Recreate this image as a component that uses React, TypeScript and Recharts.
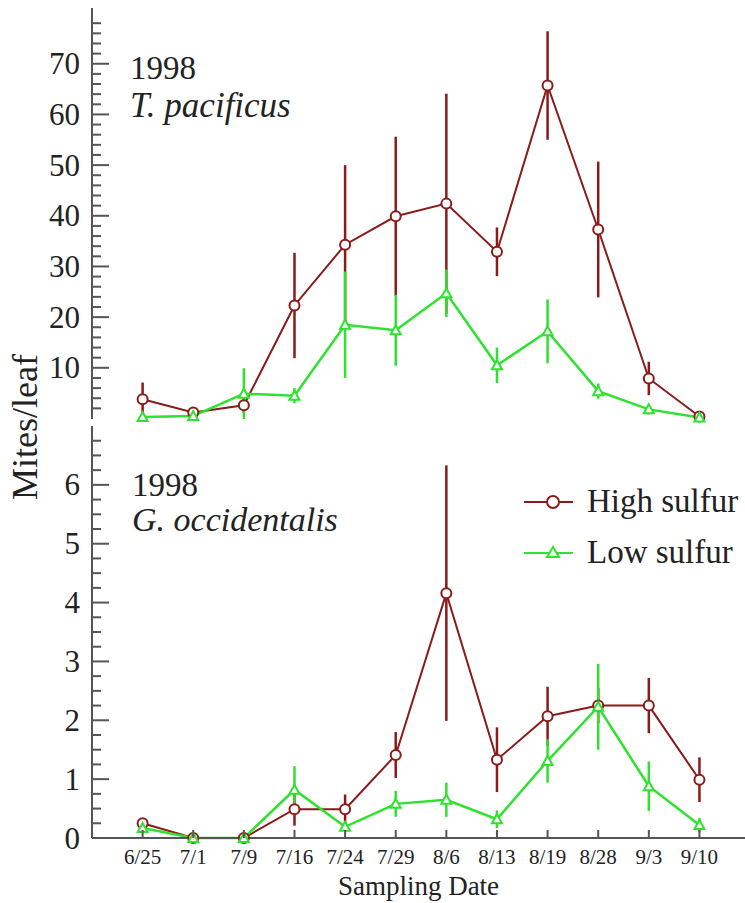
import React from 'react'
import { LineChart, Line, XAxis, YAxis, ErrorBar, Legend } from 'recharts'

const RED = '#8b1a1a'
const GREEN = '#2ee22e'
const AXIS = '#555'

const dates = ['6/25', '7/1', '7/9', '7/16', '7/24', '7/29', '8/6', '8/13', '8/19', '8/28', '9/3', '9/10']

// 1998, T. pacificus
const tpHigh = [3.8, 1.2, 2.6, 22.3, 34.3, 39.9, 42.4, 32.9, 65.7, 37.3, 7.9, 0.4]
const tpHighErr = [3.3, 0.5, 1.5, 10.4, 15.7, 15.7, 21.7, 4.8, 10.7, 13.4, 3.3, 0]
const tpLow = [0.3, 0.5, 4.9, 4.5, 18.5, 17.4, 24.7, 10.5, 17.2, 5.4, 1.8, 0.2]
const tpLowErr = [0.3, 0.3, 5, 1.5, 10.5, 7, 4.7, 3.5, 6.3, 1.5, 1, 0.2]

// 1998, G. occidentalis
const goHigh = [0.25, 0, 0, 0.49, 0.49, 1.41, 4.16, 1.33, 2.07, 2.25, 2.25, 0.99]
const goHighErr = [0.05, 0, 0, 0.28, 0.25, 0.39, 2.17, 0.55, 0.5, 0.3, 0.47, 0.38]
const goLow = [0.17, 0, 0, 0.82, 0.19, 0.58, 0.65, 0.32, 1.31, 2.23, 0.88, 0.22]
const goLowErr = [0.05, 0, 0, 0.4, 0.08, 0.22, 0.29, 0.15, 0.37, 0.73, 0.42, 0.12]

// axis ticks (majors get a label, the rest are minor marks)
const tpTicks = Array.from({ length: 39 }, (_, i) => (i + 1) * 2)
const goTicks = Array.from({ length: 28 }, (_, i) => i * 0.25)
const xTicks = dates.map((_, i) => i)

const tpData = dates.map((d, i) => ({ i, date: d, high: tpHigh[i], highErr: tpHighErr[i], low: tpLow[i], lowErr: tpLowErr[i] }))
const goData = dates.map((d, i) => ({ i, date: d, high: goHigh[i], highErr: goHighErr[i], low: goLow[i], lowErr: goLowErr[i] }))

const YTick = ({ x, y, payload, major }: any) => {
  const v = payload.value
  const isMajor = Math.abs(v / major - Math.round(v / major)) < 1e-6
  return (
    <g>
      <line x1={x} x2={x + (isMajor ? 17 : 9)} y1={y} y2={y} stroke={AXIS} strokeWidth={2} />
      {isMajor && (
        <text x={x - 12} y={y} textAnchor="end" dominantBaseline="central" fontSize={31} fill="#222">
          {v}
        </text>
      )}
    </g>
  )
}

const XTick = ({ x, y, payload, showLabel }: any) => (
  <g>
    <line x1={x} x2={x} y1={y} y2={y - 8} stroke={AXIS} strokeWidth={2} />
    {showLabel && (
      <text x={x} y={y + 19} textAnchor="middle" dominantBaseline="central" fontSize={21} fill="#222">
        {dates[payload.value]}
      </text>
    )}
  </g>
)

const CircleDot = (props: any) => {
  const { cx, cy, index } = props
  return <circle key={`c${index}`} cx={cx} cy={cy} r={5} fill="#fff" stroke={RED} strokeWidth={2} />
}

const TriDot = (props: any) => {
  const { cx, cy, index } = props
  return (
    <path
      key={`t${index}`}
      d={`M${cx},${cy - 5} L${cx + 5},${cy + 4} L${cx - 5},${cy + 4} Z`}
      fill="#fff"
      stroke={GREEN}
      strokeWidth={2}
    />
  )
}

const LegendBox = ({ payload }: any) => (
  <div>
    {(payload || []).map((e: any) => (
      <div key={e.value} style={{ display: 'flex', alignItems: 'center', height: 51 }}>
        <svg width={62} height={20}>
          <line x1={4} x2={53} y1={10} y2={10} stroke={e.color} strokeWidth={2} />
          {e.dataKey === 'high' ? (
            <circle cx={33} cy={10} r={6} fill="#fff" stroke={RED} strokeWidth={2} />
          ) : (
            <path d="M33,4 L39,14 L27,14 Z" fill="#fff" stroke={GREEN} strokeWidth={2} />
          )}
        </svg>
        <span style={{ fontSize: 33, color: '#222', marginLeft: 5 }}>{e.value}</span>
      </div>
    ))}
  </div>
)

const note: React.CSSProperties = { position: 'absolute', fontSize: 33, lineHeight: '33px', color: '#222', whiteSpace: 'nowrap' }

const App = () => {
  return (
    <div
      style={{
        position: 'absolute',
        left: 0,
        top: 0,
        width: 745,
        height: 903,
        background: '#fff',
        fontFamily: '"Liberation Serif", "Times New Roman", serif',
      }}
    >
      <div style={{ position: 'absolute', left: 0, top: 0 }}>
        <LineChart width={745} height={430} data={tpData} margin={{ top: 8, right: 0, bottom: 11, left: 0 }}>
          <XAxis
            dataKey="i"
            type="number"
            domain={[-1, 11.9]}
            ticks={xTicks}
            interval={0}
            height={0}
            tickSize={0}
            tickMargin={0}
            tickLine={false}
            tick={(p: any) => <XTick {...p} />}
            axisLine={{ stroke: AXIS, strokeWidth: 2 }}
          />
          <YAxis
            type="number"
            domain={[0, 81]}
            ticks={tpTicks}
            interval={0}
            width={92}
            tickSize={0}
            tickMargin={0}
            tickLine={false}
            tick={(p: any) => <YTick {...p} major={10} />}
            axisLine={{ stroke: AXIS, strokeWidth: 2 }}
          />
          <Line dataKey="high" name="High sulfur" stroke={RED} strokeWidth={2} dot={CircleDot} isAnimationActive={false}>
            <ErrorBar dataKey="highErr" direction="y" width={0} stroke={RED} strokeWidth={2.5} />
          </Line>
          <Line dataKey="low" name="Low sulfur" stroke={GREEN} strokeWidth={2.5} dot={TriDot} isAnimationActive={false}>
            <ErrorBar dataKey="lowErr" direction="y" width={0} stroke={GREEN} strokeWidth={2.5} />
          </Line>
        </LineChart>
      </div>

      <div style={{ position: 'absolute', left: 0, top: 420 }}>
        <LineChart width={745} height={483} data={goData} margin={{ top: 6, right: 0, bottom: 0, left: 0 }}>
          <XAxis
            dataKey="i"
            type="number"
            domain={[-1, 11.9]}
            ticks={xTicks}
            interval={0}
            height={65}
            tickSize={0}
            tickMargin={0}
            tickLine={false}
            tick={(p: any) => <XTick {...p} showLabel />}
            axisLine={{ stroke: AXIS, strokeWidth: 2 }}
            label={{ value: 'Sampling Date', position: 'insideBottom', offset: 8, fontSize: 27, fill: '#222' }}
          />
          <YAxis
            type="number"
            domain={[0, 7]}
            ticks={goTicks}
            interval={0}
            width={92}
            tickSize={0}
            tickMargin={0}
            tickLine={false}
            tick={(p: any) => <YTick {...p} major={1} />}
            axisLine={{ stroke: AXIS, strokeWidth: 2 }}
          />
          <Legend
            layout="vertical"
            align="center"
            verticalAlign="middle"
            content={<LegendBox />}
            wrapperStyle={{ left: 520, top: 56, width: 225 }}
          />
          <Line dataKey="high" name="High sulfur" stroke={RED} strokeWidth={2} dot={CircleDot} isAnimationActive={false}>
            <ErrorBar dataKey="highErr" direction="y" width={0} stroke={RED} strokeWidth={2.5} />
          </Line>
          <Line dataKey="low" name="Low sulfur" stroke={GREEN} strokeWidth={2.5} dot={TriDot} isAnimationActive={false}>
            <ErrorBar dataKey="lowErr" direction="y" width={0} stroke={GREEN} strokeWidth={2.5} />
          </Line>
        </LineChart>
      </div>

      <div style={{ ...note, left: 130, top: 52 }}>1998</div>
      <div style={{ ...note, left: 130, top: 88, fontSize: 35, lineHeight: '35px', fontStyle: 'italic' }}>T. pacificus</div>
      <div style={{ ...note, left: 132, top: 469 }}>1998</div>
      <div style={{ ...note, left: 132, top: 503, fontSize: 34, lineHeight: '34px', fontStyle: 'italic' }}>G. occidentalis</div>
      <div
        style={{
          ...note,
          fontSize: 36,
          lineHeight: '36px',
          left: 25,
          top: 427,
          transform: 'translate(-50%, -50%) rotate(-90deg)',
        }}
      >
        Mites/leaf
      </div>
    </div>
  )
}

export default App
